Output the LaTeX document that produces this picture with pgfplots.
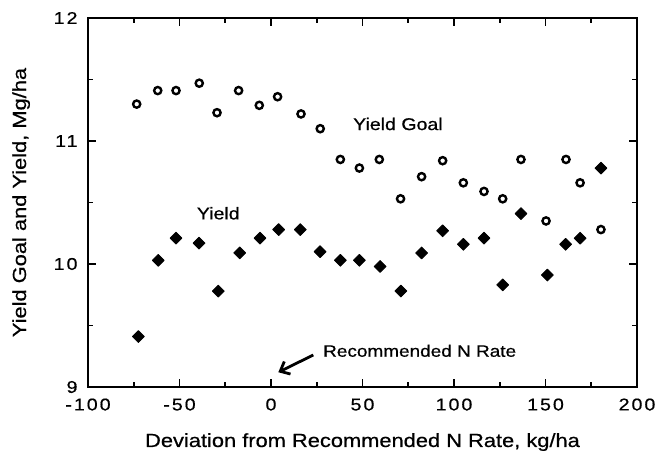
\documentclass[border=0pt]{standalone}
\usepackage{fontspec}
\setmainfont[FakeStretch=1.15,FakeBold=0.6]{Liberation Sans}
\newfontfamily\tickfont[FakeStretch=1.15,LetterSpace=12,FakeBold=0.6]{Liberation Sans}
\usepackage{pgfplots}
\pgfplotsset{compat=1.18}
\usetikzlibrary{arrows.meta}
\pgfplotstableread{
x y
-73.4 11.30
-61.9 11.41
-51.9 11.41
-39.2 11.47
-29.5 11.23
-17.7 11.41
-6.4 11.29
3.6 11.36
16.4 11.22
26.9 11.10
37.9 10.85
48.3 10.78
59.2 10.85
70.8 10.53
82.3 10.71
93.8 10.84
105.1 10.66
116.4 10.59
126.6 10.53
136.6 10.85
150.3 10.35
161.2 10.85
168.9 10.66
180.3 10.28
}\goal
\pgfplotstableread{
x y
-72.5 9.41
-61.6 10.03
-51.9 10.21
-39.3 10.17
-28.8 9.78
-17.1 10.09
-6.0 10.21
4.2 10.28
16.0 10.28
26.8 10.10
37.9 10.03
48.3 10.03
59.6 9.98
71.0 9.78
82.3 10.09
93.8 10.27
105.1 10.16
116.4 10.21
126.6 9.83
136.6 10.41
151.0 9.91
161.0 10.16
168.9 10.21
180.3 10.78
}\yield
\begin{document}
\begin{tikzpicture}
\path[use as bounding box] (0,0) rectangle (656bp,454bp);
\begin{axis}[
  at={(88bp,67bp)}, anchor=south west,
  scale only axis, width=549bp, height=369bp,
  xmin=-100, xmax=200, ymin=9, ymax=12,
  xtick={-100,-50,...,200}, ytick={9,10,11,12},
  minor x tick num=1, minor y tick num=1,
  tick align=inside,
  major tick length=8bp, minor tick length=5bp,
  tick style={line width=1.8bp, black},
  axis line style={line width=2.3bp},
  /pgf/number format/assume math mode=true,
  ticklabel style={font=\tickfont\fontsize{17bp}{20bp}\selectfont},
  xticklabel style={yshift=-8bp},
  yticklabel style={xshift=-7bp},
  xlabel={Deviation from Recommended N Rate, kg/ha},
  ylabel={Yield Goal and Yield, Mg/ha},
  label style={font=\fontsize{19bp}{22bp}\selectfont},
  xlabel style={at={(axis description cs:0.5,-0.1626)}, anchor=base},
  ylabel style={at={(axis description cs:-0.1129,0.5)}, anchor=base},
  clip=false,
]
\addplot[only marks, mark=o, mark size=3.6bp, mark options={line width=2.4bp, black}] table[x=x,y=y] {\goal};
\addplot[only marks, mark=square*, mark size=4.2bp, mark options={rotate=45, black, fill=black, line join=round, line width=0.8bp}] table[x=x,y=y] {\yield};
\node[anchor=base west, font=\fontsize{17bp}{20bp}\selectfont, inner sep=0pt] at (axis cs:44.8,11.089) {Yield Goal};
\node[anchor=base west, font=\fontsize{17bp}{20bp}\selectfont, inner sep=0pt] at (axis cs:-40.6,10.363) {Yield};
\node[anchor=base west, font=\fontsize{16.5bp}{20bp}\selectfont, inner sep=0pt] at (axis cs:28.4,9.246) {Recommended N Rate};
\draw[line width=2.8bp, -{Straight Barb[length=8bp,width=14bp]}] (axis cs:23.1,9.26) -- (axis cs:4.0,9.12);
\end{axis}
\end{tikzpicture}
\end{document}
